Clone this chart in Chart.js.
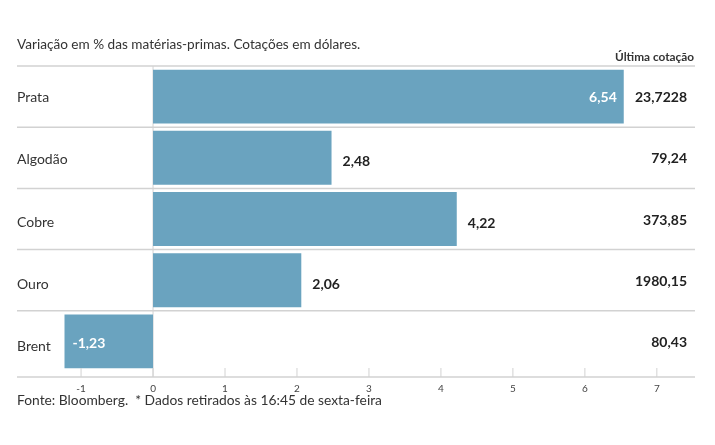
<!DOCTYPE html>
<html>
<head>
<meta charset="utf-8">
<script src="https://cdn.jsdelivr.net/npm/chart.js@4"></script>
<style>
  html, body { margin: 0; padding: 0; background: #fff; }
  #wrap { position: relative; width: 715px; height: 445px; }
</style>
</head>
<body>
<div id="wrap"><canvas id="chart" width="715" height="445"></canvas></div>
<script>
// chart data
const categories = ['Prata', 'Algodão', 'Cobre', 'Ouro', 'Brent'];
const variation = [6.54, 2.48, 4.22, 2.06, -1.23];
const lastQuote = ['23,7228', '79,24', '373,85', '1980,15', '80,43'];
const tickValues = [-1, 0, 1, 2, 3, 4, 5, 6, 7];

const FONT = 'Lato, "Noto Sans", sans-serif';
const BAR = '#6aa3bf';
const LINE = '#d2d2d2';

const fmt = v => v.toFixed(2).replace('.', ',');

// draws title, row separators, labels, value labels and the axis
const decor = {
    id: 'decor',
    beforeDatasetsDraw(chart) {
        const { ctx, chartArea: a, scales: { x, y } } = chart;
        ctx.save();
        ctx.strokeStyle = LINE;
        ctx.lineWidth = 1.5;
        // row separators
        for (let i = 0; i < categories.length; i++) {
            const top = i === 0 ? a.top : (y.getPixelForValue(i - 1) + y.getPixelForValue(i)) / 2;
            ctx.beginPath();
            ctx.moveTo(a.left, top);
            ctx.lineTo(a.right, top);
            ctx.stroke();
        }
        // zero line
        const x0 = x.getPixelForValue(0);
        ctx.lineWidth = 1;
        ctx.beginPath();
        ctx.moveTo(x0, a.top);
        ctx.lineTo(x0, a.bottom + 5);
        ctx.stroke();
        ctx.restore();
    },
    afterDatasetsDraw(chart) {
        const { ctx, chartArea: a, scales: { x, y } } = chart;
        ctx.save();

        // title and column header
        ctx.fillStyle = '#333';
        ctx.textBaseline = 'middle';
        ctx.font = '13.6px ' + FONT;
        ctx.textAlign = 'left';
        ctx.fillText('Variação em % das matérias-primas. Cotações em dólares.', 17, 45);
        ctx.font = 'bold 11.8px ' + FONT;
        ctx.textAlign = 'right';
        ctx.fillText('Última cotação', 694, 57);

        // axis line + tick marks + tick labels
        const axisY = a.bottom + 5;
        ctx.strokeStyle = LINE;
        ctx.lineWidth = 1.5;
        ctx.beginPath();
        ctx.moveTo(a.left, axisY);
        ctx.lineTo(a.right, axisY);
        ctx.stroke();
        ctx.font = '10px ' + FONT;
        ctx.fillStyle = '#444';
        ctx.textAlign = 'center';
        ctx.lineWidth = 1;
        tickValues.forEach(t => {
            const px = x.getPixelForValue(t);
            ctx.beginPath();
            ctx.moveTo(px, axisY - 9);
            ctx.lineTo(px, axisY);
            ctx.stroke();
            ctx.fillText(String(t), px, axisY + 12);
        });

        // rows
        categories.forEach((c, i) => {
            const cy = y.getPixelForValue(i);
            ctx.font = '14px ' + FONT;
            ctx.fillStyle = '#333';
            ctx.textAlign = 'left';
            ctx.fillText(c, 17, cy + 1 + i);

            const v = variation[i];
            const end = x.getPixelForValue(v);
            ctx.font = 'bold 14px ' + FONT;
            if (v < 0) {
                ctx.fillStyle = '#fff';
                ctx.textAlign = 'left';
                ctx.fillText(fmt(v), end + 8, cy + 2);
            } else if (end > 560) {
                ctx.fillStyle = '#fff';
                ctx.textAlign = 'right';
                ctx.fillText(fmt(v), end - 7, cy + 1);
            } else {
                ctx.fillStyle = '#222';
                ctx.textAlign = 'left';
                ctx.fillText(fmt(v), end + 11, cy + 4);
            }

            ctx.fillStyle = '#222';
            ctx.textAlign = 'right';
            ctx.fillText(lastQuote[i], 687, cy + 1);
        });

        // footer
        ctx.font = '13.8px ' + FONT;
        ctx.fillStyle = '#333';
        ctx.textAlign = 'left';
        ctx.fillText('Fonte: Bloomberg.  * Dados retirados às 16:45 de sexta-feira', 17, 401);
        ctx.restore();
    }
};

new Chart(document.getElementById('chart'), {
    type: 'bar',
    data: {
        labels: categories,
        datasets: [{
            data: variation,
            backgroundColor: BAR,
            borderWidth: 0,
            categoryPercentage: 0.88,
            barPercentage: 1
        }]
    },
    options: {
        indexAxis: 'y',
        responsive: false,
        animation: false,
        events: [],
        layout: { padding: { left: 17, right: 20, top: 66, bottom: 73 } },
        plugins: { legend: { display: false }, tooltip: { enabled: false } },
        scales: {
            x: { display: false, min: -1.89, max: 7.53 },
            y: { display: false }
        }
    },
    plugins: [decor]
});
</script>
</body>
</html>
